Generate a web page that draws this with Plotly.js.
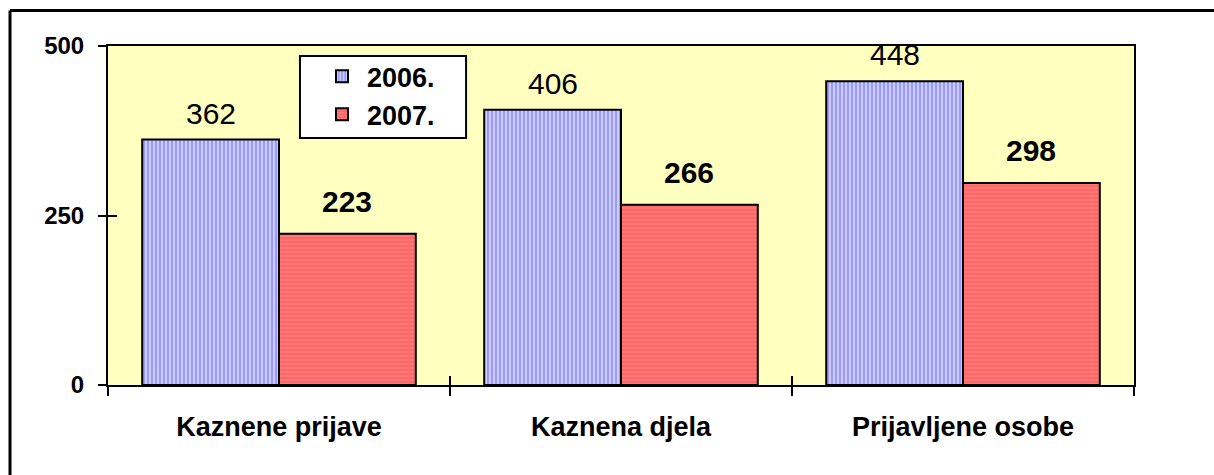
<!DOCTYPE html>
<html>
<head>
<meta charset="utf-8">
<script src="https://cdn.plot.ly/plotly-3.0.1.min.js"></script>
<style>
  html, body { margin: 0; padding: 0; background: #ffffff; }
  #chart { width: 1214px; height: 475px; }
</style>
</head>
<body>
<div id="chart"></div>
<script>
// ---- data ----
const categories = ["Kaznene prijave", "Kaznena djela", "Prijavljene osobe"];
const seriesNames = ["2006.", "2007."];
const values2006 = [362, 406, 448];
const values2007 = [223, 266, 298];
const yTickValues = [0, 250, 500];
const yTickLabels = ["0", "250", "500"];

const FONT = "Arial, 'Liberation Sans', sans-serif";
const BAR_GAP = 0.2;

const trace2006 = {
  type: "bar",
  name: seriesNames[0],
  x: categories,
  y: values2006,
  marker: {
    color: "#9999FF",
    line: { color: "#000000", width: 2 },
    pattern: { shape: "|", fgcolor: "#FFFFFF", bgcolor: "#9999FF", size: 4, solidity: 0.25, fillmode: "replace" }
  },
  hoverinfo: "x+y+name"
};
const trace2007 = {
  type: "bar",
  name: seriesNames[1],
  x: categories,
  y: values2007,
  marker: {
    color: "#FF6666",
    line: { color: "#000000", width: 2 },
    pattern: { shape: "-", fgcolor: "#FF8282", bgcolor: "#FF6666", size: 4, solidity: 0.3, fillmode: "replace" }
  },
  hoverinfo: "x+y+name"
};
// empty helper trace so the overlay axes (inside tick halves) get drawn
const helper = { type: "scatter", x: [], y: [], xaxis: "x2", yaxis: "y2", showlegend: false, hoverinfo: "skip" };

const margin = { l: 108, r: 80, t: 46, b: 90 };
const plotW = 1214 - margin.l - margin.r;
const barPx = plotW / categories.length * (1 - BAR_GAP) / 2;

const annotations = [];
categories.forEach((c, i) => {
  annotations.push({
    x: c, y: values2006[i], xref: "x", yref: "y",
    text: String(values2006[i]), showarrow: false,
    xanchor: "center", yanchor: "bottom", xshift: -barPx / 2, yshift: 8,
    font: { family: FONT, size: 30, color: "#000000" }
  });
  annotations.push({
    x: c, y: values2007[i], xref: "x", yref: "y",
    text: "<b>" + values2007[i] + "</b>", showarrow: false,
    xanchor: "center", yanchor: "bottom", xshift: barPx / 2, yshift: 14,
    font: { family: FONT, size: 30, color: "#000000" }
  });
});

const yRange = [0, 500];

const layout = {
  width: 1214,
  height: 475,
  margin: margin,
  paper_bgcolor: "#FFFFFF",
  plot_bgcolor: "#FFFFC0",
  barmode: "group",
  bargap: BAR_GAP,
  bargroupgap: 0,
  showlegend: true,
  legend: {
    x: 0.2037, y: 0.982, xanchor: "left", yanchor: "top",
    bgcolor: "rgba(0,0,0,0)", borderwidth: 0,
    font: { family: FONT, size: 27, color: "#000000", weight: "bold" },
    tracegroupgap: 0,
    itemwidth: 40
  },
  xaxis: {
    type: "category",
    tickson: "boundaries",
    ticks: "outside", ticklen: 9, tickwidth: 2, tickcolor: "#000000",
    showline: true, linecolor: "#000000", linewidth: 2, mirror: true,
    showgrid: false, zeroline: false,
    tickfont: { family: FONT, size: 27, color: "#000000", weight: "bold" },
    ticklabelstandoff: 17
  },
  yaxis: {
    range: yRange,
    tickvals: yTickValues, ticktext: yTickLabels,
    ticks: "outside", ticklen: 8, tickwidth: 2, tickcolor: "#000000",
    showline: true, linecolor: "#000000", linewidth: 2, mirror: true,
    showgrid: false, zeroline: false,
    tickfont: { family: FONT, size: 24, color: "#000000", weight: "bold" },
    ticklabelstandoff: 9
  },
  xaxis2: {
    overlaying: "x", anchor: "y2", side: "bottom",
    range: [-0.5, categories.length - 0.5],
    tickvals: categories.map((_, i) => i - 0.5).concat([categories.length - 0.5]),
    ticks: "inside", ticklen: 9, tickwidth: 2, tickcolor: "#000000",
    showticklabels: false, showline: false, showgrid: false, zeroline: false
  },
  yaxis2: {
    overlaying: "y", anchor: "x2", side: "left",
    range: yRange, tickvals: yTickValues,
    ticks: "inside", ticklen: 9, tickwidth: 2, tickcolor: "#000000",
    showticklabels: false, showline: false, showgrid: false, zeroline: false
  },
  annotations: annotations,
  shapes: [
    // legend box
    { type: "rect", xref: "paper", yref: "paper", x0: 0.1871, x1: 0.349, y0: 0.7286, y1: 0.9705,
      fillcolor: "#FFFFFF", line: { color: "#000000", width: 2 }, layer: "above" },
    // outer chart-area border (top and left edges visible)
    { type: "line", xref: "paper", yref: "paper", x0: -0.0955, x1: -0.0955, y0: -0.27, y1: 1.1047,
      line: { color: "#000000", width: 3 } },
    { type: "line", xref: "paper", yref: "paper", x0: -0.0955, x1: 1.08, y0: 1.1047, y1: 1.1047,
      line: { color: "#000000", width: 3 } }
  ]
};

Plotly.newPlot("chart", [trace2006, trace2007, helper], layout, { displayModeBar: false, staticPlot: true });
</script>
</body>
</html>
